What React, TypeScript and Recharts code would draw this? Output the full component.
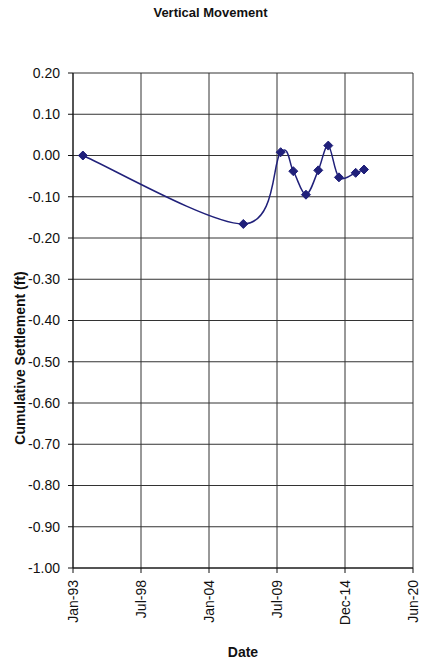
import React from 'react';
import { LineChart, Line, XAxis, YAxis, CartesianGrid } from 'recharts';

const SURVEY_DATES = [
  '1993-10-20', '2006-10-10', '2009-10-16', '2010-10-24', '2011-11-02',
  '2012-10-30', '2013-08-22', '2014-07-03', '2015-11-09', '2016-07-12',
];
const SETTLEMENT = [0.0, -0.166, 0.008, -0.038, -0.095, -0.036, 0.024, -0.053, -0.042, -0.034];

const X_TICKS = [0, 2008, 4016, 6024, 8032, 10040];
const X_LABELS = ['Jan-93', 'Jul-98', 'Jan-04', 'Jul-09', 'Dec-14', 'Jun-20'];
const Y_TICKS = [0.2, 0.1, 0, -0.1, -0.2, -0.3, -0.4, -0.5, -0.6, -0.7, -0.8, -0.9, -1.0];
const Y_MINOR = Array.from({ length: 61 }, (_, i) => Math.round((0.2 - i * 0.02) * 100) / 100);

const EPOCH = Date.UTC(1993, 0, 1);
const toDays = (s: string) => {
  const [y, m, d] = s.split('-').map(Number);
  return (Date.UTC(y, m - 1, d) - EPOCH) / 86400000;
};

const data = SURVEY_DATES.map((d, i) => ({ day: toDays(d), value: SETTLEMENT[i] }));

const NAVY = '#20207a';
const FONT = '"Liberation Sans", Arial, sans-serif';

// Excel-ish smoothed line (Catmull-Rom through the points)
const smoothCurve = (context: any) => {
  let pts: number[][] = [];
  return {
    areaStart() {},
    areaEnd() {},
    lineStart() { pts = []; },
    lineEnd() {
      if (!pts.length) return;
      context.moveTo(pts[0][0], pts[0][1]);
      for (let i = 0; i < pts.length - 1; i++) {
        const p0 = pts[i - 1] || pts[i];
        const p1 = pts[i];
        const p2 = pts[i + 1];
        const p3 = pts[i + 2] || p2;
        context.bezierCurveTo(
          p1[0] + (p2[0] - p0[0]) / 6, p1[1] + (p2[1] - p0[1]) / 6,
          p2[0] - (p3[0] - p1[0]) / 6, p2[1] - (p3[1] - p1[1]) / 6,
          p2[0], p2[1]
        );
      }
    },
    point(x: number, y: number) { pts.push([+x, +y]); },
  };
};

const Diamond = (props: any) => {
  const { cx, cy } = props;
  if (cx == null || cy == null) return null;
  const r = 4.5;
  return (
    <polygon
      points={`${cx},${cy - r} ${cx + r},${cy} ${cx},${cy + r} ${cx - r},${cy}`}
      fill={NAVY}
      stroke={NAVY}
    />
  );
};

const DateTick = (props: any) => {
  const { x, y, payload } = props;
  const idx = X_TICKS.indexOf(payload.value);
  return (
    <text
      x={0}
      y={0}
      dy="0.35em"
      transform={`translate(${x},${y + 5}) rotate(-90)`}
      textAnchor="end"
      fontSize={14}
      fontFamily={FONT}
      fill="#111"
    >
      {X_LABELS[idx]}
    </text>
  );
};

// axis title sits a bit below the plot centre, as in the original
const YTitle = () => (
  <text
    transform="translate(20,358) rotate(-90)"
    textAnchor="middle"
    dy="0.35em"
    fontFamily={FONT}
    fontWeight="bold"
    fontSize={14}
    fill="#111"
  >
    Cumulative Settlement (ft)
  </text>
);

export default function App() {
  return (
    <div style={{ position: 'absolute', left: 0, top: 0, width: 421, height: 665, background: '#fff' }}>
      <div
        style={{
          position: 'absolute', top: 5, left: 0, width: 421, textAlign: 'center',
          fontFamily: FONT, fontWeight: 'bold', fontSize: 13, color: '#111',
        }}
      >
        Vertical Movement
      </div>
      <LineChart
        width={421}
        height={665}
        data={data}
        margin={{ top: 73, right: 8, bottom: 0, left: 0 }}
      >
        <CartesianGrid stroke="#333" strokeWidth={1} />
        <XAxis
          dataKey="day"
          type="number"
          domain={[0, 10040]}
          ticks={X_TICKS}
          interval={0}
          height={97}
          tickSize={5}
          tick={<DateTick />}
          stroke="#111"
          label={{
            value: 'Date', position: 'insideBottom', offset: 8,
            style: { fontFamily: FONT, fontWeight: 'bold', fontSize: 14, fill: '#111' },
          }}
        />
        <XAxis xAxisId="top" orientation="top" dataKey="day" type="number" domain={[0, 10040]}
          height={0} tick={false} tickLine={false} stroke="#333" />
        <YAxis
          type="number"
          domain={[-1, 0.2]}
          ticks={Y_TICKS}
          interval={0}
          width={73}
          tickSize={5}
          tickMargin={8}
          stroke="#111"
          tickFormatter={(v: number) => v.toFixed(2)}
          tick={{ fontSize: 14, fontFamily: FONT, fill: '#111' }}
          label={{ content: () => <YTitle /> }}
        />
        <YAxis yAxisId="minor" type="number" domain={[-1, 0.2]} ticks={Y_MINOR} interval={0}
          mirror width={0} tickSize={3} tick={false} axisLine={false} stroke="#111" />
        <YAxis yAxisId="right" orientation="right" type="number" domain={[-1, 0.2]}
          width={0} tick={false} tickLine={false} axisLine={{ stroke: '#111', strokeWidth: 3 }} />
        <Line
          dataKey="value"
          type={smoothCurve as any}
          stroke={NAVY}
          strokeWidth={1.5}
          dot={<Diamond />}
          activeDot={false}
          isAnimationActive={false}
        />
      </LineChart>
    </div>
  );
}
